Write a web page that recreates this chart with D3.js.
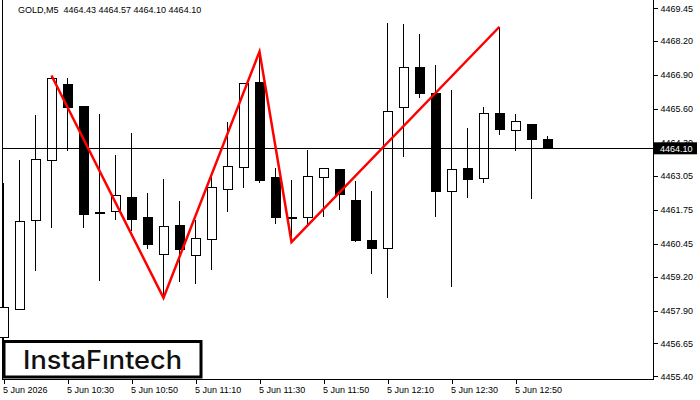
<!DOCTYPE html>
<html>
<head>
<meta charset="utf-8">
<script src="https://cdn.jsdelivr.net/npm/d3@7"></script>
<style>
  body { margin: 0; background: #fff; }
  svg { display: block; }
</style>
</head>
<body>
<div id="chart"></div>
<script>
  var times = ["10:10","10:15","10:20","10:25","10:30","10:35","10:40","10:45","10:50","10:55",
               "11:00","11:05","11:10","11:15","11:20","11:25","11:30","11:35","11:40","11:45",
               "11:50","11:55","12:00","12:05","12:10","12:15","12:20","12:25","12:30","12:35",
               "12:40","12:45","12:50","12:55","13:00"];

  var opens  = [4456.89,4457.96,4461.35,4463.64,4466.55,4465.68,4461.64,4461.68,4462.24,4461.44,
                4460.05,4461.17,4460.02,4460.63,4462.54,4463.37,4466.63,4462.97,4461.44,4461.45,
                4462.99,4463.30,4462.12,4460.59,4460.28,4465.66,4467.19,4466.20,4462.46,4463.34,
                4462.94,4465.44,4464.79,4465.02,4464.43];
  var highs  = [4462.78,4463.65,4465.37,4466.85,4466.77,4465.71,4465.41,4463.84,4464.68,4462.39,
                4462.93,4462.09,4461.36,4463.08,4465.10,4466.60,4467.79,4463.35,4462.89,4464.04,
                4463.36,4463.32,4462.85,4462.47,4468.87,4468.83,4468.45,4467.28,4466.31,4464.86,
                4465.66,4468.74,4465.40,4465.04,4464.57];
  var lows   = [4456.02,4457.96,4459.43,4461.07,4464.01,4461.07,4459.05,4461.36,4460.94,4460.27,
                4458.39,4459.01,4458.93,4459.47,4461.68,4462.60,4462.79,4461.22,4460.54,4461.17,
                4461.46,4461.76,4460.51,4459.31,4458.39,4463.78,4466.03,4461.49,4458.82,4462.21,
                4462.79,4464.62,4464.01,4462.18,4464.10];
  var closes = [4458.03,4461.31,4463.68,4466.77,4465.65,4461.57,4461.62,4462.28,4461.37,4460.42,
                4461.13,4460.23,4460.66,4462.62,4463.41,4466.58,4462.86,4461.45,4461.42,4463.03,
                4463.34,4462.34,4460.57,4460.28,4465.50,4467.19,4466.18,4462.44,4463.30,4462.90,
                4465.44,4464.81,4465.13,4464.43,4464.10];

  // pattern drawn over the candles
  var patternTimes  = ["10:25","11:00","11:30","11:40","12:45"];
  var patternPrices = [4466.88,4458.39,4467.79,4460.52,4468.74];

  var xTicks = ["10:10","10:30","10:50","11:10","11:30","11:50","12:10","12:30","12:50"];
  var xTickLabels = ["5 Jun 2026","5 Jun 10:30","5 Jun 10:50","5 Jun 11:10","5 Jun 11:30",
                     "5 Jun 11:50","5 Jun 12:10","5 Jun 12:30","5 Jun 12:50"];
  var yTicks = [4469.45,4468.20,4466.90,4465.60,4464.30,4463.05,4461.75,4460.45,4459.20,4457.90,4456.65,4455.40];

  var lastPrice = 4464.10;
  var title = "GOLD,M5  4464.43 4464.57 4464.10 4464.10";

  var width = 700, height = 400;
  var plotLeft = 2.5, plotRight = 653.5, plotBottom = 379.5;
  var font = "'Liberation Sans', Arial, sans-serif";

  var data = times.map(function(t, i) {
    return {time: t, open: opens[i], high: highs[i], low: lows[i], close: closes[i]};
  });

  var svg = d3.select("#chart")
    .append("svg")
      .attr("width", width)
      .attr("height", height);

  var x = d3.scalePoint()
    .domain(times)
    .range([3.5, 547.5]);

  var y = d3.scaleLinear()
    .domain([lastPrice, 4455.40])
    .range([148.3, 376.2]);

  // frame
  var frame = svg.append("g")
    .attr("stroke", "#000")
    .attr("shape-rendering", "crispEdges");
  frame.append("line").attr("x1", plotLeft).attr("x2", plotLeft).attr("y1", 0).attr("y2", plotBottom);
  frame.append("line").attr("x1", plotRight).attr("x2", plotRight).attr("y1", 0).attr("y2", plotBottom);
  frame.append("line").attr("x1", plotLeft).attr("x2", plotRight).attr("y1", plotBottom).attr("y2", plotBottom);

  // x axis
  var xAxis = d3.axisBottom(x)
    .tickValues(xTicks)
    .tickSize(4)
    .tickPadding(3)
    .tickFormat(function(d, i) { return xTickLabels[i]; });

  var gx = svg.append("g")
    .attr("transform", "translate(0," + plotBottom + ")")
    .call(xAxis);
  gx.select(".domain").remove();
  gx.selectAll("line").attr("shape-rendering", "crispEdges");
  gx.selectAll("text")
    .attr("text-anchor", "start")
    .attr("dx", -1)
    .style("font-family", font)
    .style("font-size", "9px")
    .attr("fill", "#000");

  // y axis
  var yAxis = d3.axisRight(y)
    .tickValues(yTicks)
    .tickSize(4)
    .tickPadding(3)
    .tickFormat(d3.format(".2f"));

  var gy = svg.append("g")
    .attr("transform", "translate(" + plotRight + ",0)")
    .call(yAxis);
  gy.select(".domain").remove();
  gy.selectAll("line").attr("shape-rendering", "crispEdges");
  gy.selectAll("text")
    .style("font-family", font)
    .style("font-size", "9px")
    .attr("fill", "#000");

  // candles
  var candles = svg.append("g")
    .attr("shape-rendering", "crispEdges");

  candles.selectAll("line.wick")
    .data(data)
    .enter().append("line")
      .attr("class", "wick")
      .attr("x1", function(d) { return x(d.time); })
      .attr("x2", function(d) { return x(d.time); })
      .attr("y1", function(d) { return y(d.high); })
      .attr("y2", function(d) { return y(d.low); })
      .attr("stroke", "#000");

  candles.selectAll("rect.body")
    .data(data)
    .enter().append("rect")
      .attr("class", "body")
      .attr("x", function(d) { return x(d.time) - 4.5; })
      .attr("width", 9)
      .attr("y", function(d) { return y(Math.max(d.open, d.close)); })
      .attr("height", function(d) { return Math.max(1, Math.abs(y(d.open) - y(d.close))); })
      .attr("fill", function(d) { return d.close >= d.open ? "#fff" : "#000"; })
      .attr("stroke", "#000");

  // current price line
  svg.append("line")
    .attr("x1", plotLeft)
    .attr("x2", plotRight)
    .attr("y1", y(lastPrice))
    .attr("y2", y(lastPrice))
    .attr("stroke", "#000")
    .attr("shape-rendering", "crispEdges");

  // pattern
  var pattern = patternTimes.map(function(t, i) { return {time: t, price: patternPrices[i]}; });
  svg.append("path")
    .datum(pattern)
    .attr("fill", "none")
    .attr("stroke", "#ff0000")
    .attr("stroke-width", 2.5)
    .attr("d", d3.line()
      .x(function(d) { return x(d.time); })
      .y(function(d) { return y(d.price); })
    );

  // price tag on the axis
  svg.append("rect")
    .attr("x", 654)
    .attr("y", y(lastPrice) - 6)
    .attr("width", 43)
    .attr("height", 12)
    .attr("fill", "#000");
  svg.append("text")
    .attr("x", 660)
    .attr("y", y(lastPrice) + 3.5)
    .attr("fill", "#fff")
    .style("font-family", font)
    .style("font-size", "9px")
    .text(d3.format(".2f")(lastPrice));

  // title
  svg.append("text")
    .attr("x", 18)
    .attr("y", 13)
    .attr("fill", "#000")
    .style("font-family", font)
    .style("font-size", "9px")
    .style("white-space", "pre")
    .text(title);

  // logo
  svg.append("rect")
    .attr("x", 4)
    .attr("y", 341.5)
    .attr("width", 197)
    .attr("height", 35.5)
    .attr("fill", "#fff")
    .attr("stroke", "#000")
    .attr("stroke-width", 3);
  svg.append("text")
    .attr("x", 23)
    .attr("y", 368.5)
    .attr("textLength", 159)
    .attr("lengthAdjust", "spacingAndGlyphs")
    .attr("fill", "#111")
    .style("font-family", "Inter, Lato, sans-serif")
    .style("font-size", "25px")
    .style("font-weight", 500)
    .text("InstaF\u0131ntech");
</script>
</body>
</html>
